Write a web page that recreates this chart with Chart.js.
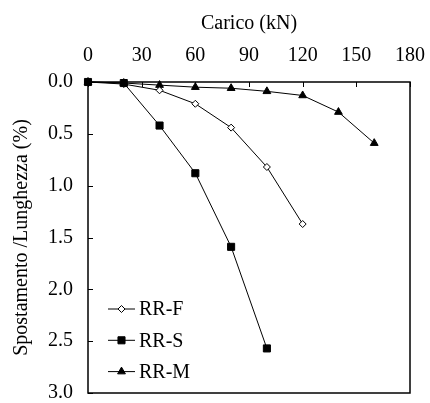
<!DOCTYPE html>
<html>
<head>
<meta charset="utf-8">
<script src="https://cdn.jsdelivr.net/npm/chart.js@4/dist/chart.umd.min.js"></script>
<style>
html,body{margin:0;padding:0;background:#fff;}
#wrap{width:430px;height:403px;}
</style>
</head>
<body>
<div id="wrap"><canvas id="c" width="430" height="403"></canvas></div>
<script>
const seriesNames = ['RR-F', 'RR-S', 'RR-M'];
const loadRRF = [0, 20, 40, 60, 80, 100, 120];
const dispRRF = [0, 0.02, 0.08, 0.21, 0.44, 0.82, 1.37];
const loadRRS = [0, 20, 40, 60, 80, 100];
const dispRRS = [0, 0.01, 0.42, 0.88, 1.59, 2.57];
const loadRRM = [0, 20, 40, 60, 80, 100, 120, 140, 160];
const dispRRM = [0, 0.01, 0.03, 0.05, 0.06, 0.09, 0.13, 0.29, 0.59];
const xTicks = [0, 30, 60, 90, 120, 150, 180];
const yTicks = [0, 0.5, 1.0, 1.5, 2.0, 2.5, 3.0];

const FONT = "'Liberation Serif', 'Times New Roman', serif";
const pts = (xs, ys) => xs.map((x, i) => ({x: x, y: ys[i]}));

const styles = [
  {pointStyle: 'rectRot', radius: 3.5, bg: '#ffffff', order: 1},
  {pointStyle: 'rect', radius: 5, bg: '#000000', order: 0},
  {pointStyle: 'triangle', radius: 4.5, bg: '#000000', order: 2}
];
const seriesData = [pts(loadRRF, dispRRF), pts(loadRRS, dispRRS), pts(loadRRM, dispRRM)];

const datasets = seriesNames.map((n, i) => ({
  label: n,
  data: seriesData[i],
  borderColor: '#000',
  borderWidth: 1,
  pointStyle: styles[i].pointStyle,
  pointRadius: styles[i].radius,
  pointBackgroundColor: styles[i].bg,
  pointBorderColor: '#000',
  pointBorderWidth: 1,
  order: styles[i].order,
  clip: false,
  tension: 0
}));

function drawMarker(ctx, style, r, x, y) {
  Chart.helpers.drawPoint(ctx, {pointStyle: style, radius: r, rotation: 0, borderWidth: 1}, x, y);
}

const framePlugin = {
  id: 'frame',
  afterDatasetsDraw(chart) {
    const ctx = chart.ctx, a = chart.chartArea;
    const xs = chart.scales.x, ys = chart.scales.y;
    ctx.save();
    ctx.strokeStyle = '#000';
    ctx.lineWidth = 1.5;
    ctx.strokeRect(a.left, a.top, a.right - a.left, a.bottom - a.top);
    ctx.lineWidth = 1;
    ctx.beginPath();
    xTicks.forEach(v => {
      const px = Math.round(xs.getPixelForValue(v)) + 0.5;
      ctx.moveTo(px, a.top); ctx.lineTo(px, a.top + 5);
    });
    yTicks.forEach(v => {
      const py = Math.round(ys.getPixelForValue(v)) + 0.5;
      ctx.moveTo(a.left, py); ctx.lineTo(a.left + 5, py);
    });
    ctx.stroke();
    ctx.restore();
  },
  afterDraw(chart) {
    const ctx = chart.ctx, a = chart.chartArea;
    const x0 = a.left + 20, x1 = a.left + 47;
    const startY = a.bottom - 84, gap = 31.3;
    ctx.save();
    chart.data.datasets.forEach((ds, i) => {
      const y = startY + i * gap;
      ctx.strokeStyle = '#000';
      ctx.lineWidth = 1;
      ctx.beginPath();
      ctx.moveTo(x0, y); ctx.lineTo(x1, y);
      ctx.stroke();
      ctx.save();
      ctx.fillStyle = ds.pointBackgroundColor;
      ctx.strokeStyle = '#000';
      ctx.lineWidth = 1;
      drawMarker(ctx, ds.pointStyle, ds.pointRadius, (x0 + x1) / 2, y);
      ctx.restore();
      ctx.fillStyle = '#000';
      ctx.font = '20px ' + FONT;
      ctx.textAlign = 'left';
      ctx.textBaseline = 'middle';
      ctx.fillText(ds.label, x1 + 4, y + 1);
    });
    ctx.restore();
  }
};

const zeroPad = s => { s.paddingTop = 0; s.paddingBottom = 0; s.paddingLeft = 0; s.paddingRight = 0; };

new Chart(document.getElementById('c'), {
  type: 'line',
  data: {datasets: datasets},
  plugins: [framePlugin],
  options: {
    responsive: false,
    animation: false,
    devicePixelRatio: 1,
    layout: {padding: {left: 0, top: 0, right: 20, bottom: 10}},
    plugins: {legend: {display: false}, tooltip: {enabled: false}},
    scales: {
      x: {
        type: 'linear',
        position: 'top',
        min: 0, max: 180,
        afterBuildTicks: s => { s.ticks = xTicks.map(v => ({value: v})); },
        afterFit: s => { s.height = 82; zeroPad(s); },
        grid: {display: false, drawTicks: false},
        border: {display: false},
        ticks: {color: '#000', font: {family: FONT, size: 20}, padding: 14, maxRotation: 0, autoSkip: false},
        title: {display: true, text: 'Carico (kN)', color: '#000', font: {family: FONT, size: 20}, padding: {top: 12, bottom: 0}}
      },
      y: {
        type: 'linear',
        reverse: true,
        min: 0, max: 3,
        afterBuildTicks: s => { s.ticks = yTicks.map(v => ({value: v})); },
        afterFit: s => { s.width = 88; zeroPad(s); },
        grid: {display: false, drawTicks: false},
        border: {display: false},
        ticks: {color: '#000', font: {family: FONT, size: 20}, padding: 15, autoSkip: false, callback: v => Number(v).toFixed(1)},
        title: {display: true, text: 'Spostamento /Lunghezza (%)', color: '#000', font: {family: FONT, size: 20}, padding: {top: 10, bottom: 0}}
      }
    }
  }
});
</script>
</body>
</html>
